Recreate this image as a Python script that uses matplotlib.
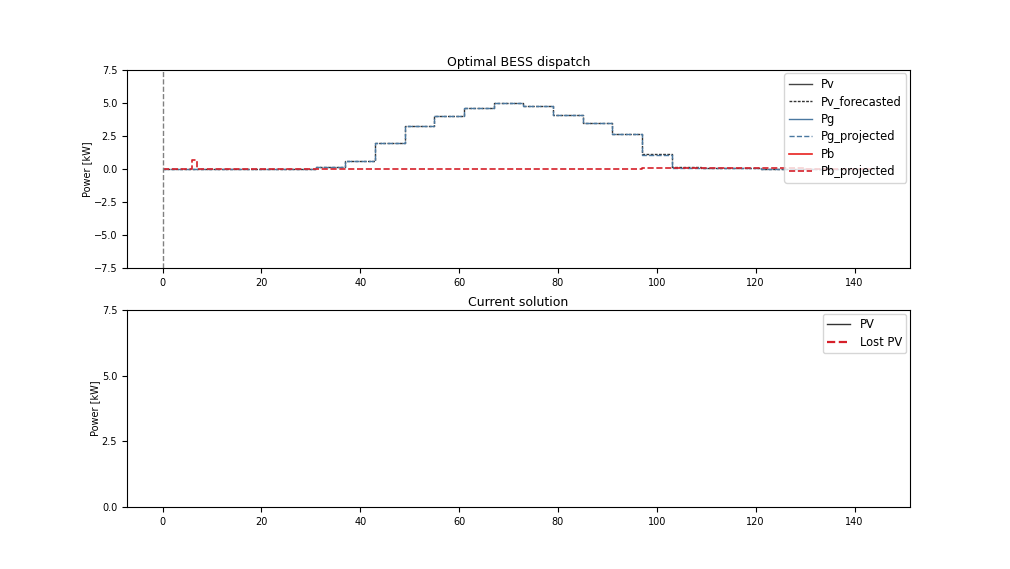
import matplotlib.pyplot as plt
import numpy as np

# hourly values, each hour = 6 time steps, first hour starts at t=1
pv_hourly = [0.0, 0.0, 0.0, 0.02, 0.03, 0.15, 0.63, 1.95, 3.28, 4.0, 4.6, 4.98,
             4.77, 4.09, 3.46, 2.65, 1.15, 0.13, 0.08, 0.05, 0.03, 0.01, 0.0, 0.0]
pg_hourly = [0.0, 0.0, 0.0, 0.02, 0.03, 0.15, 0.63, 1.95, 3.28, 4.0, 4.6, 4.98,
             4.77, 4.09, 3.46, 2.65, 1.05, 0.1, 0.06, 0.04, 0.02, 0.01, 0.0, 0.0]
# battery power per time step (sparse: index -> kW)
pb_steps = {6: 0.7}
pb_steps.update({i: 0.1 for i in range(97, 103)})
pb_steps.update({i: 0.05 for i in range(103, 130)})

t = np.arange(145)
pv_fc = np.concatenate([[0.0], np.repeat(pv_hourly, 6)])
pg_proj = np.concatenate([[0.0], np.repeat(pg_hourly, 6)])
pb_proj = np.zeros(145)
for i, v in pb_steps.items():
    pb_proj[i] = v

fig = plt.figure(figsize=(10.1, 5.69), dpi=100)
ax1 = fig.add_axes([0.1257, 0.529, 0.7752, 0.348])
ax2 = fig.add_axes([0.1257, 0.109, 0.7752, 0.346])

ax1.plot([], [], color='#444444', linewidth=1, label='Pv')
ax1.plot(t, pv_fc, color='#333333', linestyle=(0, (2, 1)), linewidth=1,
         drawstyle='steps-post', label='Pv_forecasted')
ax1.plot([], [], color='#4a78a0', linewidth=1, label='Pg')
ax1.plot(t, pg_proj, color='#4a78a0', linestyle='--', linewidth=1,
         drawstyle='steps-post', label='Pg_projected')
ax1.plot([], [], color='#e8211f', linewidth=1.2, label='Pb')
ax1.plot(t, pb_proj, color='#d6202a', linestyle='--', linewidth=1.2,
         drawstyle='steps-post', label='Pb_projected')
ax1.axvline(0, color='gray', linestyle='--', linewidth=1)

ax1.set_xlim(-7.2, 151.2)
ax1.set_ylim(-7.5, 7.5)
ax1.set_yticks([-7.5, -5, -2.5, 0, 2.5, 5, 7.5])
ax1.set_xticks(np.arange(0, 141, 20))
ax1.set_title('Optimal BESS dispatch', fontsize=9, pad=3)
ax1.set_ylabel('Power [kW]', fontsize=7, labelpad=1)
ax1.tick_params(labelsize=7)
ax1.legend(loc='upper right', fontsize=8.3, labelspacing=0.38, borderaxespad=0.3)

ax2.plot([], [], color='#333333', linewidth=1, label='PV')
ax2.plot([], [], color='#d6202a', linestyle='--', linewidth=1.6, label='Lost PV')
ax2.set_xlim(-7.2, 151.2)
ax2.set_ylim(0, 7.5)
ax2.set_yticks([0, 2.5, 5, 7.5])
ax2.set_xticks(np.arange(0, 141, 20))
ax2.set_title('Current solution', fontsize=9, pad=3)
ax2.set_ylabel('Power [kW]', fontsize=7, labelpad=1)
ax2.tick_params(labelsize=7)
ax2.legend(loc='upper right', fontsize=8.3, labelspacing=0.38, borderaxespad=0.3)

plt.savefig('out.png', dpi=100)
